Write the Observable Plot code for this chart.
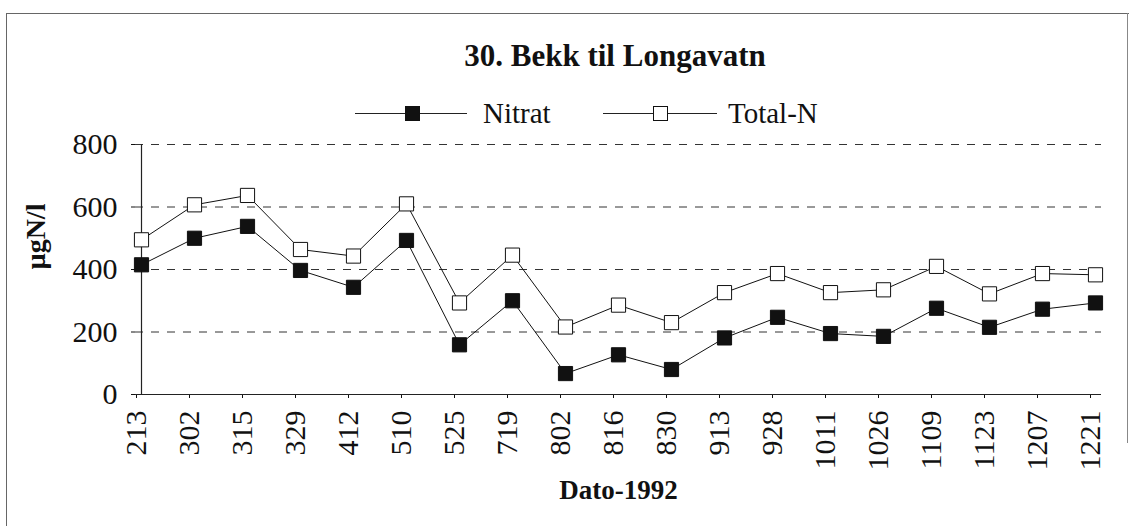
<!DOCTYPE html>
<html>
<head>
<meta charset="utf-8">
<script src="https://cdn.jsdelivr.net/npm/d3@7"></script>
<script src="https://cdn.jsdelivr.net/npm/@observablehq/plot@0.6"></script>
<style>
  html, body { margin: 0; padding: 0; background: #fff; }
  #wrap { position: relative; width: 1136px; height: 526px; overflow: hidden; font-family: "Liberation Serif", "DejaVu Serif", serif; color: #111; }
  #frameLT { position: absolute; left: 6px; top: 13px; width: 1122px; height: 520px; border-left: 1.5px solid #666; border-top: 1.5px solid #666; }
  #frameR { position: absolute; left: 1127px; top: 13px; width: 0; height: 430px; border-left: 1px solid #888; }
  #title { position: absolute; left: 0; width: 1230px; top: 38px; text-align: center; font-size: 31px; font-weight: bold; line-height: 36px; white-space: nowrap; }
  .leg { position: absolute; top: 98px; font-size: 29px; line-height: 30px; white-space: nowrap; }
  .legline { position: absolute; height: 0; border-top: 1px solid #222; }
  .legsq { position: absolute; width: 13px; height: 13px; border: 1px solid #111; }
  #chart { position: absolute; left: 0; top: 128px; }
</style>
</head>
<body>
<div id="wrap">
  <div id="frameLT"></div>
  <div id="frameR"></div>
  <div id="title">30. Bekk til Longavatn</div>
  <div id="legend"></div>
  <div id="chart"></div>
</div>
<script>
// ---- data ----
const dates = ["213","302","315","329","412","510","525","719","802","816","830","913","928","1011","1026","1109","1123","1207","1221"];
const nitrat = [415, 500, 538, 397, 343, 493, 159, 300, 67, 127, 80, 181, 247, 195, 186, 276, 215, 273, 293];
const totalN = [495, 607, 637, 464, 443, 610, 293, 446, 216, 286, 230, 326, 387, 326, 335, 410, 322, 387, 383];
const yTicks = [0, 200, 400, 600, 800];
const gridValues = [200, 400, 600, 800];
const seriesNames = ["Nitrat", "Total-N"];
const yLabel = "µgN/l";
const xLabel = "Dato-1992";

const rowsN = dates.map((d, i) => ({date: d, value: nitrat[i]}));
const rowsT = dates.map((d, i) => ({date: d, value: totalN[i]}));

// ---- legend (HTML) ----
const legend = document.getElementById("legend");
const legendSpec = [
  {name: seriesNames[0], fill: "#111", lineX: 355, lineW: 112, sqX: 405, textX: 483},
  {name: seriesNames[1], fill: "#fff", lineX: 603, lineW: 114, sqX: 653, textX: 728}
];
for (const s of legendSpec) {
  const ln = document.createElement("div");
  ln.className = "legline";
  ln.style.left = s.lineX + "px"; ln.style.top = "113px"; ln.style.width = s.lineW + "px";
  legend.appendChild(ln);
  const sq = document.createElement("div");
  sq.className = "legsq";
  sq.style.left = s.sqX + "px"; sq.style.top = "106px"; sq.style.background = s.fill;
  legend.appendChild(sq);
  const tx = document.createElement("div");
  tx.className = "leg";
  tx.style.left = s.textX + "px";
  tx.textContent = s.name;
  legend.appendChild(tx);
}

// ---- chart ----
const chart = Plot.plot({
  width: 1136,
  height: 398,
  marginLeft: 135,
  marginRight: 35,
  marginTop: 16,
  marginBottom: 132,
  style: {fontFamily: "'Liberation Serif', serif", color: "#111", background: "transparent", overflow: "visible"},
  x: {type: "point", domain: dates, padding: 0},
  y: {domain: [0, 800]},
  marks: [
    Plot.ruleY(gridValues, {stroke: "#333", strokeWidth: 1, strokeDasharray: "8,8"}),
    Plot.axisY({ticks: yTicks, tickSize: 4, tickPadding: 14, fontSize: 30, label: null, tickFormat: d => String(d)}),
    Plot.axisX({tickRotate: -90, tickSize: 4, tickPadding: 12, fontSize: 30, label: null, dx: -5}),
    Plot.ruleY([0], {stroke: "#222", strokeWidth: 1.2}),
    Plot.ruleX([dates[0]], {y1: 0, y2: 800, stroke: "#222", strokeWidth: 1.2}),
    Plot.line(rowsT, {x: "date", y: "value", stroke: "#111", strokeWidth: 1}),
    Plot.line(rowsN, {x: "date", y: "value", stroke: "#111", strokeWidth: 1}),
    Plot.dot(rowsT, {x: "date", y: "value", symbol: "square", r: 8, fill: "#fff", stroke: "#111", strokeWidth: 1}),
    Plot.dot(rowsN, {x: "date", y: "value", symbol: "square", r: 8, fill: "#111", stroke: "#111", strokeWidth: 1}),
    Plot.text([yLabel], {frameAnchor: "left", rotate: -90, dx: -99, fontSize: 28, fontWeight: "bold", fill: "#111"}),
    Plot.text([xLabel], {frameAnchor: "bottom", dy: 104, fontSize: 27, fontWeight: "bold", fill: "#111"})
  ]
});
document.getElementById("chart").appendChild(chart);
</script>
</body>
</html>
